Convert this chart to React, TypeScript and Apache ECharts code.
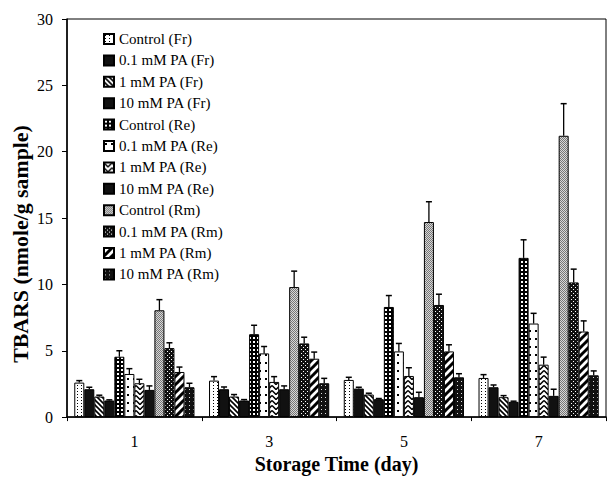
import React, { useEffect, useRef } from "react";
import * as echarts from "echarts";

const categories = ["1", "3", "5", "7"];
const seriesNames = [
  "Control (Fr)", "0.1 mM PA (Fr)", "1 mM PA (Fr)", "10 mM PA (Fr)",
  "Control (Re)", "0.1 mM PA (Re)", "1 mM PA (Re)", "10 mM PA (Re)",
  "Control (Rm)", "0.1 mM PA (Rm)", "1 mM PA (Rm)", "10 mM PA (Rm)",
];
const yTicks = [0, 5, 10, 15, 20, 25, 30];

const controlFr = [2.6, 2.75, 2.8, 2.95];
const controlFrErr = [0.15, 0.3, 0.2, 0.25];
const pa01Fr = [2.1, 2.1, 2.15, 2.25];
const pa01FrErr = [0.15, 0.17, 0.1, 0.17];
const pa1Fr = [1.55, 1.55, 1.7, 1.5];
const pa1FrErr = [0.1, 0.15, 0.1, 0.12];
const pa10Fr = [1.25, 1.25, 1.35, 1.15];
const pa10FrErr = [0.05, 0.07, 0.05, 0.05];
const controlRe = [4.55, 6.25, 8.3, 12.0];
const controlReErr = [0.45, 0.67, 0.86, 1.36];
const pa01Re = [3.25, 4.8, 4.95, 7.05];
const pa01ReErr = [0.4, 0.52, 0.6, 0.77];
const pa1Re = [2.55, 2.65, 3.1, 3.95];
const pa1ReErr = [0.3, 0.4, 0.62, 0.57];
const pa10Re = [2.05, 2.1, 1.5, 1.6];
const pa10ReErr = [0.3, 0.25, 0.37, 0.5];
const controlRm = [8.05, 9.8, 14.7, 21.2];
const controlRmErr = [0.8, 1.2, 1.53, 2.42];
const pa01Rm = [5.2, 5.55, 8.45, 10.15];
const pa01RmErr = [0.4, 0.47, 0.81, 1.0];
const pa1Rm = [3.4, 4.4, 4.95, 6.45];
const pa1RmErr = [0.37, 0.5, 0.5, 0.8];
const pa10Rm = [2.25, 2.55, 3.0, 3.15];
const pa10RmErr = [0.3, 0.37, 0.27, 0.33];

const seriesValues = [controlFr, pa01Fr, pa1Fr, pa10Fr, controlRe, pa01Re, pa1Re, pa10Re, controlRm, pa01Rm, pa1Rm, pa10Rm];
const seriesErrors = [controlFrErr, pa01FrErr, pa1FrErr, pa10FrErr, controlReErr, pa01ReErr, pa1ReErr, pa10ReErr, controlRmErr, pa01RmErr, pa1RmErr, pa10RmErr];

const FONT = "'Liberation Serif', 'Times New Roman', serif";
const CAT_GAP = 0.108;

function makePattern(w: number, h: number, bg: string, draw: (ctx: CanvasRenderingContext2D) => void) {
  const c = document.createElement("canvas");
  c.width = w;
  c.height = h;
  const ctx = c.getContext("2d")!;
  ctx.fillStyle = bg;
  ctx.fillRect(0, 0, w, h);
  ctx.fillStyle = "#000";
  ctx.strokeStyle = "#000";
  draw(ctx);
  return { image: c, repeat: "repeat", imageWidth: w, imageHeight: h } as any;
}

function buildFills(): any[] {
  const dotsWhite = makePattern(4, 3, "#fff", (ctx) => {
    ctx.fillRect(1, 1, 1, 1);
  });
  const solid = "#111";
  const backslash = makePattern(5, 5, "#fff", (ctx) => {
    ctx.lineWidth = 1.6;
    ctx.beginPath();
    for (let k = -5; k <= 5; k += 5) {
      ctx.moveTo(k - 1, -1);
      ctx.lineTo(k + 6, 6);
    }
    ctx.stroke();
  });
  const grid = makePattern(4, 4, "#000", (ctx) => {
    ctx.fillStyle = "#fff";
    ctx.fillRect(1, 1, 2, 2);
  });
  const sparseDots = makePattern(6, 8, "#fff", (ctx) => {
    ctx.fillRect(1, 2, 2, 2);
  });
  const chevron = makePattern(8, 5, "#fff", (ctx) => {
    ctx.lineWidth = 1.5;
    ctx.beginPath();
    ctx.moveTo(0, 0.5);
    ctx.lineTo(4, 4.5);
    ctx.lineTo(8, 0.5);
    ctx.stroke();
  });
  const grey = makePattern(2, 2, "#d8d8d8", (ctx) => {
    ctx.fillStyle = "#777";
    ctx.fillRect(0, 0, 1, 1);
    ctx.fillRect(1, 1, 1, 1);
  });
  const checker = makePattern(4, 4, "#111", (ctx) => {
    ctx.fillStyle = "#fff";
    ctx.fillRect(1, 1, 1, 1);
    ctx.fillRect(3, 3, 1, 1);
  });
  const slash = makePattern(8, 8, "#fff", (ctx) => {
    ctx.lineWidth = 3;
    ctx.beginPath();
    for (let k = -8; k <= 16; k += 8) {
      ctx.moveTo(k - 1, 9);
      ctx.lineTo(k + 9, -1);
    }
    ctx.stroke();
  });
  const darkDots = makePattern(4, 4, "#111", (ctx) => {
    ctx.fillStyle = "#ddd";
    ctx.fillRect(1, 1, 1, 1);
  });
  return [dotsWhite, solid, backslash, solid, grid, sparseDots, chevron, solid, grey, checker, slash, darkDots];
}

export default function App() {
  const ref = useRef<HTMLDivElement>(null);
  useEffect(() => {
    if (!ref.current) return;
    const chart = echarts.init(ref.current, null, { renderer: "svg" });
    const fills = buildFills();
    const n = seriesNames.length;

    const barSeries = seriesNames.map((name, i) => ({
      name,
      type: "bar",
      data: seriesValues[i],
      barGap: "0%",
      barCategoryGap: (CAT_GAP * 100).toFixed(1) + "%",
      itemStyle: { color: fills[i], borderColor: "#000", borderWidth: 1 },
      emphasis: { disabled: true },
    }));

    const errData: number[][] = [];
    seriesValues.forEach((vals, s) => {
      vals.forEach((v, c) => errData.push([c, s, v, seriesErrors[s][c]]));
    });

    const errSeries = {
      type: "custom",
      name: "err",
      data: errData,
      encode: { x: 0, y: 2 },
      z: 10,
      silent: true,
      renderItem: (params: any, api: any) => {
        const c = api.value(0);
        const s = api.value(1);
        const v = api.value(2);
        const e = api.value(3);
        const base = api.coord([c, v]);
        const top = api.coord([c, v + e]);
        const band = api.size([1, 0])[0];
        const groupW = band * (1 - CAT_GAP);
        const bw = groupW / n;
        const x = base[0] - groupW / 2 + bw * (s + 0.5);
        const capW = bw * 0.6;
        return {
          type: "group",
          children: [
            { type: "line", shape: { x1: x, y1: base[1], x2: x, y2: top[1] }, style: { stroke: "#000", lineWidth: 1.3 } },
            { type: "line", shape: { x1: x - capW / 2, y1: top[1], x2: x + capW / 2, y2: top[1] }, style: { stroke: "#000", lineWidth: 1.5 } },
          ],
        };
      },
    };

    chart.setOption({
      animation: false,
      backgroundColor: "#fff",
      grid: { left: 67, right: 3, top: 19, bottom: 55, show: true, borderColor: "#000", borderWidth: 1, backgroundColor: "transparent" },
      legend: {
        data: seriesNames,
        orient: "vertical",
        left: 103,
        top: 31,
        padding: 0,
        icon: "rect",
        itemWidth: 10,
        itemHeight: 10,
        itemGap: 5.4,
        selectedMode: false,
        textStyle: { fontFamily: FONT, fontSize: 15, color: "#000", lineHeight: 16 },
      },
      xAxis: {
        type: "category",
        data: categories,
        name: "Storage Time (day)",
        nameLocation: "middle",
        nameGap: 36,
        nameTextStyle: { fontFamily: FONT, fontSize: 20, fontWeight: "bold", color: "#000" },
        axisLine: { lineStyle: { color: "#000", width: 1.5 } },
        axisTick: { show: true, length: 4, lineStyle: { color: "#000" } },
        axisLabel: { fontFamily: FONT, fontSize: 16, color: "#000", margin: 16 },
      },
      yAxis: {
        type: "value",
        min: yTicks[0],
        max: yTicks[yTicks.length - 1],
        interval: 5,
        axisLine: { show: true, lineStyle: { color: "#000", width: 1.5 } },
        axisTick: { show: true, length: 5, lineStyle: { color: "#000" } },
        splitLine: { show: false },
        axisLabel: { fontFamily: FONT, fontSize: 16, color: "#000", margin: 14 },
      },
      graphic: [
        {
          type: "text",
          x: 21,
          y: 244,
          rotation: Math.PI / 2,
          scaleX: 1.04,
          style: {
            text: "TBARS (nmole/g sample)",
            font: `bold 21px ${FONT}`,
            fill: "#000",
            textAlign: "center",
            textVerticalAlign: "middle",
          },
        },
      ],
      series: [...barSeries, errSeries],
    });
    return () => chart.dispose();
  }, []);
  return <div ref={ref} style={{ width: 609, height: 479, position: "absolute", left: 0, top: 0 }} />;
}
